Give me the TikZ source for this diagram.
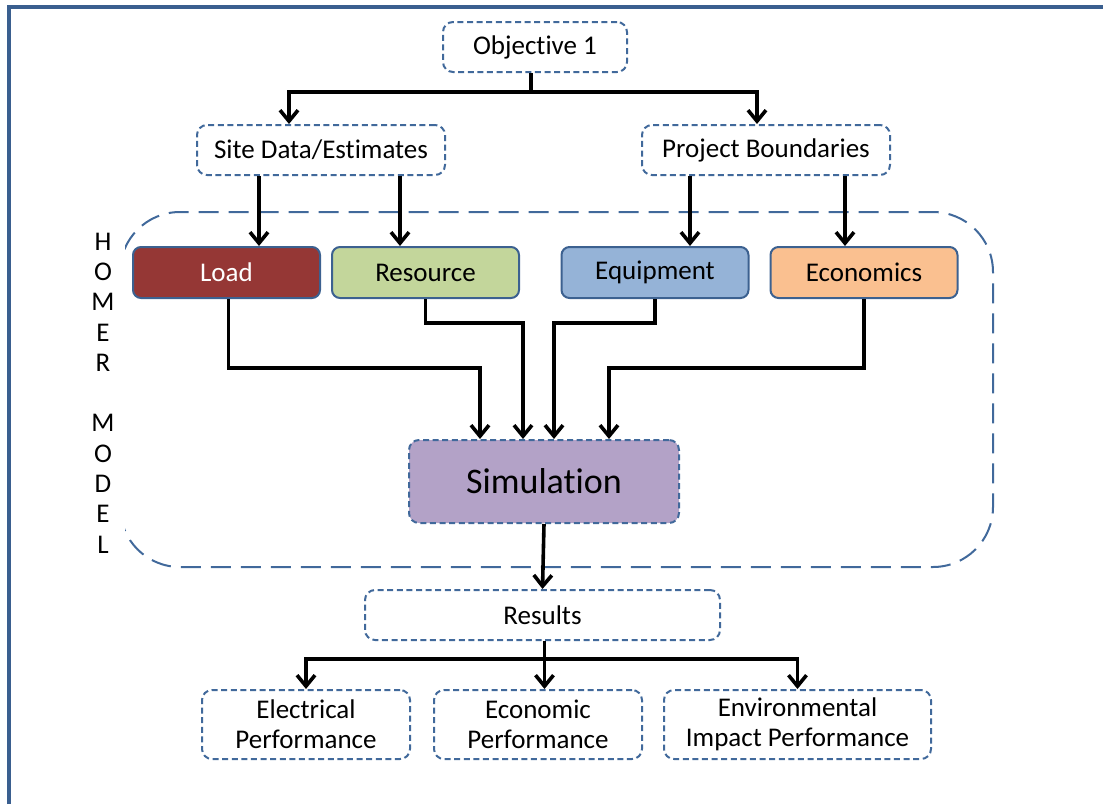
\documentclass[tikz,border=0pt]{standalone}
\usepackage{fontspec}
\setmainfont{Carlito}[Ligatures=NoCommon]
\usetikzlibrary{arrows.meta, positioning}
\definecolor{homerBlue}{HTML}{41699B}
\definecolor{frameBlue}{HTML}{3A5F8F}
\definecolor{edgeBlue}{HTML}{3C6190}
\definecolor{loadRed}{HTML}{953735}
\definecolor{resGreen}{HTML}{C3D69B}
\definecolor{equBlue}{HTML}{95B3D7}
\definecolor{ecoOrange}{HTML}{FAC090}
\definecolor{simPurple}{HTML}{B3A2C7}

\begin{document}
\begin{tikzpicture}[
    x=0.5pt, y=-0.5pt,
    dashbox/.style={rectangle, rounded corners=5pt, draw=homerBlue, line width=1pt,
                 dash pattern=on 3pt off 1.8pt, fill=white, align=center, inner sep=0pt,
                 font=\fontsize{13.5}{15}\selectfont},
    homerbox/.style={rectangle, rounded corners=4pt, draw=edgeBlue, line width=1pt,
                 minimum width=93.5pt, minimum height=25.5pt, inner sep=0pt,
                 font=\fontsize{13.5}{15}\selectfont},
    link/.style={line width=1.8pt},
    conn/.style={link, -{Straight Barb[length=5.5pt, width=9pt]}},
  ]
    \useasboundingbox (0,0) rectangle (1103,804);
    \draw[frameBlue, line width=2pt] (9,804) -- (9,7) -- (1103,7);

    % homer model boundary
    \draw[homerBlue, line width=1pt, dash pattern=on 10pt off 5pt, rounded corners=30pt]
      (120,212) rectangle (993,567);
    \node[fill=white, minimum width=22pt, minimum height=168pt, inner sep=0pt, align=center,
          font=\fontsize{13.5}{15.15}\selectfont] (homer) at (103,393)
      {H\\O\\M\\E\\R\\[15.15pt]M\\O\\D\\E\\L};

    % top level
    \node[dashbox, minimum width=92pt, minimum height=25pt] (obj) at (535,47) {Objective 1};
    \node[dashbox, minimum width=124pt, minimum height=25pt] (site) at (321,150) {Site Data/Estimates};
    \node[dashbox, minimum width=124pt, minimum height=25pt] (proj) at (766,150) {Project Boundaries};

    % model inputs
    \node[homerbox, fill=loadRed, text=white] (load) at (226.5,272.5) {Load};
    \node[homerbox, fill=resGreen] (resrc) at (425.5,272.5) {Resource};
    \node[homerbox, fill=equBlue] (equip) at (655,272.5) {Equipment};
    \node[homerbox, fill=ecoOrange] (econ) at (864,272.5) {Economics};

    \node[dashbox, fill=simPurple, minimum width=135pt, minimum height=41.5pt,
          font=\fontsize{18}{20}\selectfont] (sim) at (544,481.5) {Simulation};

    % outputs
    \node[dashbox, minimum width=177.5pt, minimum height=25pt] (results) at (542.5,615) {Results};
    \node[dashbox, minimum width=104pt, minimum height=34.5pt] (elec) at (306,724.5) {Electrical\\Performance};
    \node[dashbox, minimum width=104pt, minimum height=34.5pt, right=11pt of elec] (ecoperf) {Economic\\Performance};
    \node[dashbox, minimum width=133.5pt, minimum height=34.5pt, right=10pt of ecoperf] (envperf) {Environmental\\Impact Performance};

    % objective split
    \coordinate (objsplit) at ([xshift=-2pt]obj.south |- 0,92);
    \draw[link] ([xshift=-2pt]obj.south) -- (objsplit);
    \draw[conn] (objsplit) -| ([xshift=-16pt]site.north);
    \draw[conn] (objsplit) -| ([xshift=-4.5pt]proj.north);

    \draw[conn] ([xshift=-31pt]site.south) -- ([xshift=-31pt]site.south |- load.north);
    \draw[conn] ([xshift=39.5pt]site.south) -- ([xshift=39.5pt]site.south |- resrc.north);
    \draw[conn] ([xshift=-38pt]proj.south) -- ([xshift=-38pt]proj.south |- equip.north);
    \draw[conn] ([xshift=39.5pt]proj.south) -- ([xshift=39.5pt]proj.south |- econ.north);

    % into simulation
    \draw[conn] ([xshift=1pt]load.south) -- ([xshift=1pt]load.south |- 0,368) -| ([xshift=-32pt]sim.north);
    \draw[conn] (resrc.south) -- (resrc.south |- 0,323) -| ([xshift=-10.5pt]sim.north);
    \draw[conn] (equip.south) -- (equip.south |- 0,323) -| ([xshift=5pt]sim.north);
    \draw[conn] (econ.south) -- (econ.south |- 0,368) -| ([xshift=32.5pt]sim.north);

    \draw[conn] (sim.south) -- (results.north);

    % results split
    \coordinate (ressplit) at ([xshift=1pt]results.south |- 0,659);
    \draw[link] ([xshift=1pt]results.south) -- (ressplit);
    \draw[conn] (ressplit) -| (elec.north);
    \draw[conn] (ressplit) -| (ressplit |- ecoperf.north);
    \draw[conn] (ressplit) -| (envperf.north);
  \end{tikzpicture}
\end{document}
